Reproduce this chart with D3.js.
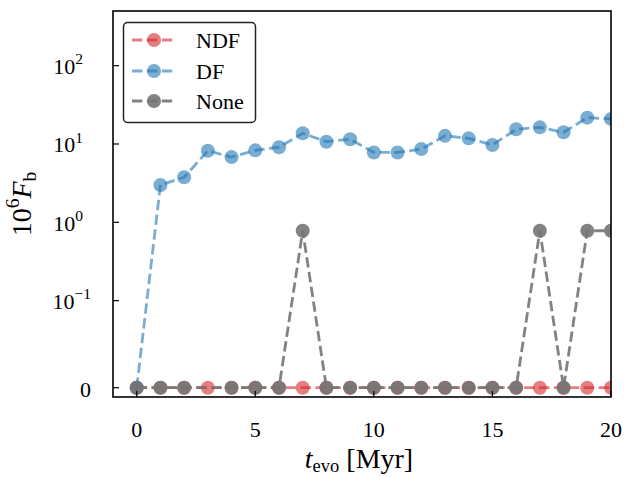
<!DOCTYPE html>
<html><head><meta charset="utf-8">
<script src="https://cdn.jsdelivr.net/npm/d3@7"></script>
<style>
body{margin:0;background:#fff}
text{font-family:"Liberation Serif","Times New Roman",serif;fill:#000}
</style>
</head><body><svg id="c" width="626" height="477"></svg>
<script>
// ---- data ----
const tEvo = [0,1,2,3,4,5,6,7,8,9,10,11,12,13,14,15,16,17,18,19,20];
const ndfValues = [0,0,0,0,0,0,0,0,0,0,0,0,0,0,0,0,0,0,0,0,0];
const dfValues = [0,3.0,3.76,8.2,6.8,8.3,9.1,13.7,10.7,11.5,7.8,7.8,8.6,12.7,11.8,9.7,15.4,16.3,14.1,21.7,20.9];
const noneValues = [0,0,0,0,0,0,0,0.78,0,0,0,0,0,0,0,0,0,0.78,0,0.78,0.78];
const noneMarkerSkip = [3];
const seriesNames = ["NDF","DF","None"];
const xTickValues = [0,5,10,15,20];
const yTickValues = [0,0.1,1,10,100];
const yTickBase = ["0","10","10","10","10"];
const yTickExp = ["","−1","0","1","2"];

// ---- layout ----
const W=626,H=477;
const L=113,R=611,T=11,B=397;
const svg=d3.select("#c");

// symlog (matplotlib style, linthresh 0.1, linscale 1, base 10)
const linthresh=0.1, linscaleAdj=1/(1-1/10);
function symT(v){const a=Math.abs(v);return a<=linthresh? v/linthresh*linscaleAdj : Math.sign(v)*(linscaleAdj+Math.log10(a/linthresh));}
const x=d3.scaleLinear().domain([-1,20]).range([L,R]);
const yLin=d3.scaleLinear().domain([-0.119,4.809]).range([B,T]);
const y=v=>yLin(symT(v));

const colors={NDF:"#d62728",DF:"#1f77b4",None:"#747474"};
const alphas={NDF:0.6,DF:0.6,None:0.9};
const lw=2.8, dash="10.4,4.5", mr=7;

svg.append("defs").append("clipPath").attr("id","clip").append("rect")
  .attr("x",L).attr("y",T).attr("width",R-L).attr("height",B-T);

const plot=svg.append("g").attr("clip-path","url(#clip)");
const line=d3.line().x(d=>x(d[0])).y(d=>y(d[1]));
const series=[
  {name:"NDF",vals:ndfValues,skip:[]},
  {name:"DF",vals:dfValues,skip:[]},
  {name:"None",vals:noneValues,skip:noneMarkerSkip}
];
series.forEach(s=>{
  const pts=tEvo.map((t,i)=>[t,s.vals[i],i]);
  plot.append("path").attr("d",line(pts)).attr("fill","none")
    .attr("stroke",colors[s.name]).attr("stroke-opacity",alphas[s.name])
    .attr("stroke-width",lw).attr("stroke-dasharray",dash);
  plot.selectAll(null).data(pts.filter(p=>!s.skip.includes(p[2]))).enter().append("circle")
    .attr("cx",d=>x(d[0])).attr("cy",d=>y(d[1])).attr("r",mr)
    .attr("fill",colors[s.name]).attr("fill-opacity",alphas[s.name]);
});

// spines
svg.append("rect").attr("x",L).attr("y",T).attr("width",R-L).attr("height",B-T)
  .attr("fill","none").attr("stroke","#000").attr("stroke-width",1.6);

// x ticks
const xt=svg.append("g");
xTickValues.forEach(v=>{
  xt.append("line").attr("x1",x(v)).attr("x2",x(v)).attr("y1",B).attr("y2",B-6)
    .attr("stroke","#000").attr("stroke-width",1.2);
  xt.append("text").attr("x",x(v)).attr("y",437).attr("text-anchor","middle")
    .attr("font-size",22).text(v);
});
// y ticks
const yt=svg.append("g");
yTickValues.forEach((v,i)=>{
  const py=y(v);
  yt.append("line").attr("x1",L).attr("x2",L+6).attr("y1",py).attr("y2",py)
    .attr("stroke","#000").attr("stroke-width",1.2);
  const exp=yTickExp[i];
  const right = (exp && !exp.startsWith("−")) ? 83 : 91;
  const t=yt.append("text").attr("x",right).attr("y",py+(exp?8.3:9.5)).attr("text-anchor","end").attr("font-size",22);
  t.append("tspan").text(yTickBase[i]);
  if(exp) t.append("tspan").attr("font-size",15.5).attr("dy",-9.5).text(exp);
});

// axis labels
const xl=svg.append("text").attr("x",359).attr("y",468).attr("text-anchor","middle").attr("font-size",28);
xl.append("tspan").attr("font-style","italic").text("t");
xl.append("tspan").attr("font-size",18.5).attr("dy",4).text("evo");
xl.append("tspan").attr("dy",-4).text(" [Myr]");

const yl=svg.append("text").attr("transform","translate(31,204) rotate(-90)").attr("text-anchor","middle").attr("font-size",28);
yl.append("tspan").text("10");
yl.append("tspan").attr("font-size",19.5).attr("dy",-12).text("6");
yl.append("tspan").attr("dy",12).attr("font-style","italic").text("F");
yl.append("tspan").attr("font-size",19.5).attr("dy",5).text("b");

// legend
const lg=svg.append("g");
lg.append("rect").attr("x",123.5).attr("y",22.5).attr("width",132).attr("height",100).attr("rx",4)
  .attr("fill","#fff").attr("fill-opacity",0.8).attr("stroke","#222").attr("stroke-width",1.5);
const rowY=[40,71,101];
seriesNames.forEach((n,i)=>{
  lg.append("line").attr("x1",132).attr("x2",175).attr("y1",rowY[i]).attr("y2",rowY[i])
    .attr("stroke",colors[n]).attr("stroke-opacity",alphas[n]).attr("stroke-width",lw).attr("stroke-dasharray",dash);
  lg.append("circle").attr("cx",154).attr("cy",rowY[i]).attr("r",mr)
    .attr("fill",colors[n]).attr("fill-opacity",alphas[n]);
  lg.append("text").attr("x",196).attr("y",rowY[i]+8).attr("font-size",22).text(n);
});
</script></body></html>
